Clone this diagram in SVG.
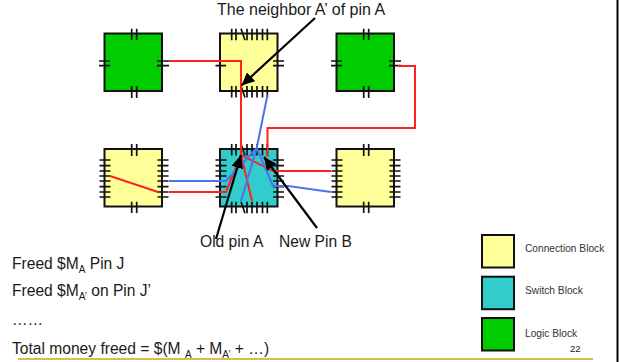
<svg xmlns="http://www.w3.org/2000/svg" width="620" height="362" viewBox="0 0 620 362">
<style>
text{font-family:"Liberation Sans",Arial,sans-serif;fill:#1a1a1a}
.b{stroke:#111;stroke-width:2}
.y{fill:#ffff99}.c{fill:#33cccc}.g{fill:#00cc00}
.p{stroke:#111;stroke-width:1.7;fill:none}
.r{stroke:#ff2020;stroke-width:2;fill:none}
.u{stroke:#4d72f0;stroke-width:2;fill:none}
.k{stroke:#000;stroke-width:2.2;fill:none}
.t{font-size:15.600px}.s{font-size:10px}.l{font-size:10.200px;fill:#333}
</style>
<defs>
<marker id="ah" markerUnits="userSpaceOnUse" markerWidth="14" markerHeight="12" refX="13" refY="6" orient="auto"><path d="M0 0L13 6L0 12Z" fill="#000"/></marker>
<path id="four" class="p" d="M131.700 28.700V40M136.700 28.700V40M131.700 86V98M136.700 86V98M99 61H110M99 65.700H110M157 61H169M157 65.700H169"/>
<path id="hs" class="p" d="M0 160H11M0 165.700H11M0 171H11M0 176H11M0 181H11M0 186.700H11M0 192H11M0 197H11"/>
<path id="vs" class="p" d="M231.700 0V11.500M236 0V11.500M241 0L245 11.500M247 0V11.500M252 0V11.500M257 0V11.500M262.500 0V11.500M267.300 0V11.500"/>
</defs>
<g id="node-logic-1"><rect class="b g" x="104.500" y="33.500" width="57.500" height="57.500"/><use href="#four"/></g>
<g id="node-conn-top"><rect class="b y" x="220" y="33.500" width="57.500" height="57.500"/>
<path class="p" d="M215.500 61H226M215.500 65.700H226M273 61H284M273 65.700H284"/><use href="#vs" y="28.700"/><use href="#vs" y="86"/></g>
<g id="node-logic-2"><rect class="b g" x="336.500" y="33.500" width="57.500" height="57.500"/><use href="#four" x="232"/></g>
<g id="node-conn-left"><rect class="b y" x="104.500" y="149" width="57.500" height="57.500"/>
<path class="p" d="M131.700 144V156M136.700 144V156M131.700 201.700V213M136.700 201.700V213"/><use href="#hs" x="99.500"/><use href="#hs" x="157.500"/></g>
<g id="node-switch"><rect class="b c" x="220" y="149" width="57.500" height="57.500"/><use href="#vs" y="144"/><use href="#vs" y="201.700"/><use href="#hs" x="215.500"/><use href="#hs" x="273"/></g>
<g id="node-conn-right"><rect class="b y" x="336.500" y="149" width="57.500" height="57.500"/>
<path class="p" d="M363.700 144V156M368.700 144V156M363.700 201.700V213M368.700 201.700V213"/><use href="#hs" x="331.500"/><use href="#hs" x="389.500"/></g>
<g id="connectors">
<path class="r" d="M169 61H241V155"/>
<path class="r" d="M398 66H415V128H267.500V157"/>
<path class="r" d="M110 176L158 192"/>
<path class="r" d="M169 192H226L241 155L273 171H331M241 155L252 201"/>
<path class="u" d="M169 181H226L256.700 148L241 201M267.500 95L256.700 148L273 186H288L331 192"/>
<path class="k" marker-end="url(#ah)" d="M315 18L241.500 85.500"/>
<path class="k" marker-end="url(#ah)" d="M216 239L241 155"/>
<path class="k" marker-end="url(#ah)" d="M317 228L264 157"/>
</g>
<text x="217" y="15" font-size="16">The neighbor A’ of pin A</text>
<text class="t" x="200" y="247">Old pin A</text>
<text class="t" x="279" y="247">New Pin B</text>
<text class="t" x="12" y="269">Freed $M<tspan class="s" dy="4">A</tspan><tspan dy="-4"> Pin J</tspan></text>
<text class="t" x="12" y="296">Freed $M<tspan class="s" dy="4">A’</tspan><tspan dy="-4"> on Pin J’</tspan></text>
<text class="t" x="12" y="325">……</text>
<text class="t" x="12" y="354">Total money freed = $(M <tspan class="s" dy="4">A</tspan><tspan dy="-4"> + M</tspan><tspan class="s" dy="4">A’</tspan><tspan dy="-4"> + …)</tspan></text>
<g id="legend-connection"><rect class="b y" x="482" y="235" width="32" height="32.500"/><text class="l" x="525" y="252">Connection Block</text></g>
<g id="legend-switch"><rect class="b c" x="482" y="276.700" width="32" height="32.500"/><text class="l" x="525" y="294">Switch Block</text></g>
<g id="legend-logic"><rect class="b g" x="482" y="318" width="32" height="32.500"/><text class="l" x="525" y="337">Logic Block</text></g>
<text x="570" y="352" font-size="9.500">22</text>
<path d="M18 359H593" stroke="#d4a017" stroke-width="1.500" fill="none"/>
<path d="M617.500 0V362" stroke="#000" stroke-width="2" fill="none"/>
</svg>
